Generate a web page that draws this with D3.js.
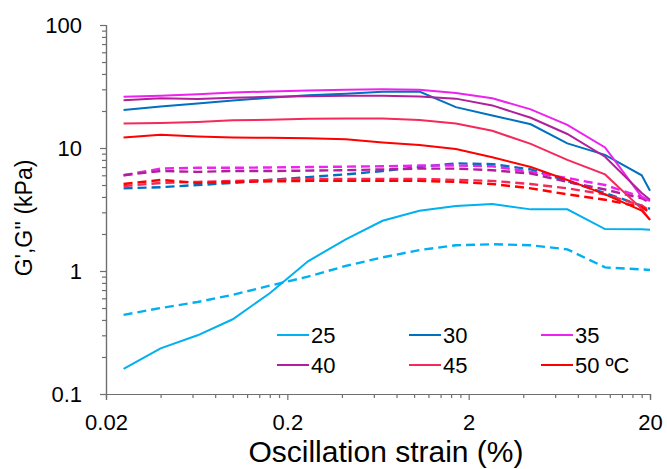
<!DOCTYPE html>
<html>
<head>
<meta charset="utf-8">
<script src="https://cdn.jsdelivr.net/npm/d3@7"></script>
<style>
  body { margin: 0; background: #fff; }
  text { font-family: "Liberation Sans", Arial, sans-serif; fill: #000; }
</style>
</head>
<body>
<div id="chart"></div>
<script>
// strain (%) at each measured point
var strain = [0.025, 0.04, 0.064, 0.1, 0.16, 0.26, 0.42, 0.67, 1.07, 1.7, 2.7, 4.4, 7, 11.3, 18, 20];

var temps = ['25', '30', '35', '40', '45', '50 ºC'];

// G' (kPa), solid lines
var gPrime25 = [0.16, 0.235, 0.30, 0.405, 0.66, 1.2, 1.81, 2.56, 3.09, 3.37, 3.5, 3.17, 3.17, 2.19, 2.18, 2.16];
var gPrime30 = [20.4, 21.7, 23.0, 24.3, 25.6, 26.8, 27.6, 28.6, 28.8, 21.5, 18.4, 15.6, 10.9, 8.8, 6.0, 4.5];
var gPrime35 = [26.1, 26.6, 27.3, 28.3, 28.8, 29.4, 29.8, 30.0, 29.8, 28.0, 25.4, 20.6, 15.4, 10.1, 4.0, 3.7];
var gPrime40 = [24.5, 25.4, 25.0, 25.6, 26.1, 26.4, 26.6, 26.6, 26.2, 25.2, 22.2, 17.6, 13.0, 8.5, 4.3, 3.8];
var gPrime45 = [15.8, 16.0, 16.3, 16.8, 17.0, 17.3, 17.4, 17.4, 16.9, 15.8, 13.8, 10.8, 8.0, 6.1, 3.2, 2.6];
var gPrime50 = [12.2, 12.8, 12.4, 12.2, 12.1, 12.0, 11.8, 11.1, 10.6, 9.8, 8.4, 7.0, 5.5, 4.2, 3.1, 2.6];

// G'' (kPa), dashed lines
var gDouble25 = [0.44, 0.50, 0.56, 0.64, 0.76, 0.90, 1.10, 1.29, 1.48, 1.62, 1.65, 1.62, 1.50, 1.07, 1.03, 1.02];
var gDouble30 = [4.7, 4.8, 5.0, 5.2, 5.5, 5.8, 6.1, 6.5, 7.0, 7.5, 7.4, 6.7, 5.4, 4.3, 3.4, 3.2];
var gDouble35 = [6.0, 6.8, 6.9, 6.9, 6.95, 7.0, 7.05, 7.1, 7.2, 7.2, 7.1, 6.4, 5.7, 5.0, 4.0, 3.7];
var gDouble40 = [6.0, 6.5, 6.4, 6.5, 6.5, 6.55, 6.6, 6.7, 6.8, 6.8, 6.6, 6.2, 5.3, 4.6, 3.9, 3.6];
var gDouble45 = [4.9, 5.2, 5.3, 5.4, 5.5, 5.6, 5.6, 5.6, 5.6, 5.5, 5.4, 5.1, 4.7, 4.2, 3.4, 3.1];
var gDouble50 = [5.1, 5.5, 5.2, 5.3, 5.35, 5.4, 5.4, 5.4, 5.4, 5.3, 5.1, 4.7, 4.2, 3.8, 3.3, 3.0];

var xTickLabels = [0.02, 0.2, 2, 20];
var yTickLabels = [0.1, 1, 10, 100];

var colors = ['#00B0F0', '#0070C0', '#EE22EE', '#B0209A', '#F5295A', '#FF0000'];

var gPrime = [gPrime25, gPrime30, gPrime35, gPrime40, gPrime45, gPrime50];
var gDouble = [gDouble25, gDouble30, gDouble35, gDouble40, gDouble45, gDouble50];

var width = 667;
var height = 469;
var margin = {top: 25, right: 17, bottom: 75, left: 106};

var svg = d3.select('#chart').append('svg')
    .attr('width', width)
    .attr('height', height);

var x = d3.scaleLog().domain([0.02, 20]).range([margin.left, width - margin.right]);
var y = d3.scaleLog().domain([0.1, 100]).range([height - margin.bottom, margin.top]);

// minor ticks: multiples of the major value in each decade
var xMinor = [];
xTickLabels.slice(0, 3).forEach(function(v) {
    for (var k = 2; k <= 9; k++) xMinor.push(v * k);
});
var yMinor = [];
yTickLabels.slice(0, 3).forEach(function(v) {
    for (var k = 2; k <= 9; k++) yMinor.push(v * k);
});

var axisColor = '#6f6f6f';

function styleAxis(g) {
    g.select('.domain').attr('stroke', axisColor).attr('stroke-width', 1.2);
    g.selectAll('.tick line').attr('stroke', axisColor).attr('stroke-width', 1.2);
    g.selectAll('.tick text').style('font-size', '22px');
}

svg.append('g')
    .attr('transform', 'translate(0,' + (height - margin.bottom) + ')')
    .call(d3.axisBottom(x).tickValues(xMinor).tickSize(4).tickFormat(''))
    .call(styleAxis);

svg.append('g')
    .attr('transform', 'translate(0,' + (height - margin.bottom) + ')')
    .call(d3.axisBottom(x).tickValues(xTickLabels).tickSize(6).tickPadding(14)
        .tickFormat(function(d) { return String(d); }))
    .call(styleAxis);

svg.append('g')
    .attr('transform', 'translate(' + margin.left + ',0)')
    .call(d3.axisLeft(y).tickValues(yMinor).tickSize(4).tickFormat(''))
    .call(styleAxis);

svg.append('g')
    .attr('transform', 'translate(' + margin.left + ',0)')
    .call(d3.axisLeft(y).tickValues(yTickLabels).tickSize(6).tickPadding(18)
        .tickFormat(function(d) { return String(d); }))
    .call(styleAxis);

// axis titles
svg.append('text')
    .attr('x', 386)
    .attr('y', height - 7)
    .attr('text-anchor', 'middle')
    .style('font-size', '30px')
    .text('Oscillation strain (%)');

svg.append('text')
    .attr('transform', 'translate(32,' + 218 + ')rotate(-90)')
    .attr('text-anchor', 'middle')
    .style('font-size', '23px')
    .text("G',G'' (kPa)");

var line = d3.line()
    .x(function(d, i) { return x(strain[i]); })
    .y(function(d) { return y(d); });

var plot = svg.append('g');

gDouble.forEach(function(s, i) {
    plot.append('path')
        .attr('d', line(s))
        .attr('fill', 'none')
        .attr('stroke', colors[i])
        .attr('stroke-width', 2.4)
        .attr('stroke-dasharray', '9,5');
});

gPrime.forEach(function(s, i) {
    plot.append('path')
        .attr('d', line(s))
        .attr('fill', 'none')
        .attr('stroke', colors[i])
        .attr('stroke-width', 2);
});

// legend, 3 columns x 2 rows
var legend = svg.append('g');
temps.forEach(function(t, i) {
    var col = i % 3;
    var row = Math.floor(i / 3);
    var lx = 277 + col * 132;
    var ly = 335 + row * 30;
    legend.append('line')
        .attr('x1', lx).attr('x2', lx + 32)
        .attr('y1', ly).attr('y2', ly)
        .attr('stroke', colors[i])
        .attr('stroke-width', 2);
    legend.append('text')
        .attr('x', lx + 34)
        .attr('y', ly + 8)
        .style('font-size', '22px')
        .text(t);
});
</script>
</body>
</html>
